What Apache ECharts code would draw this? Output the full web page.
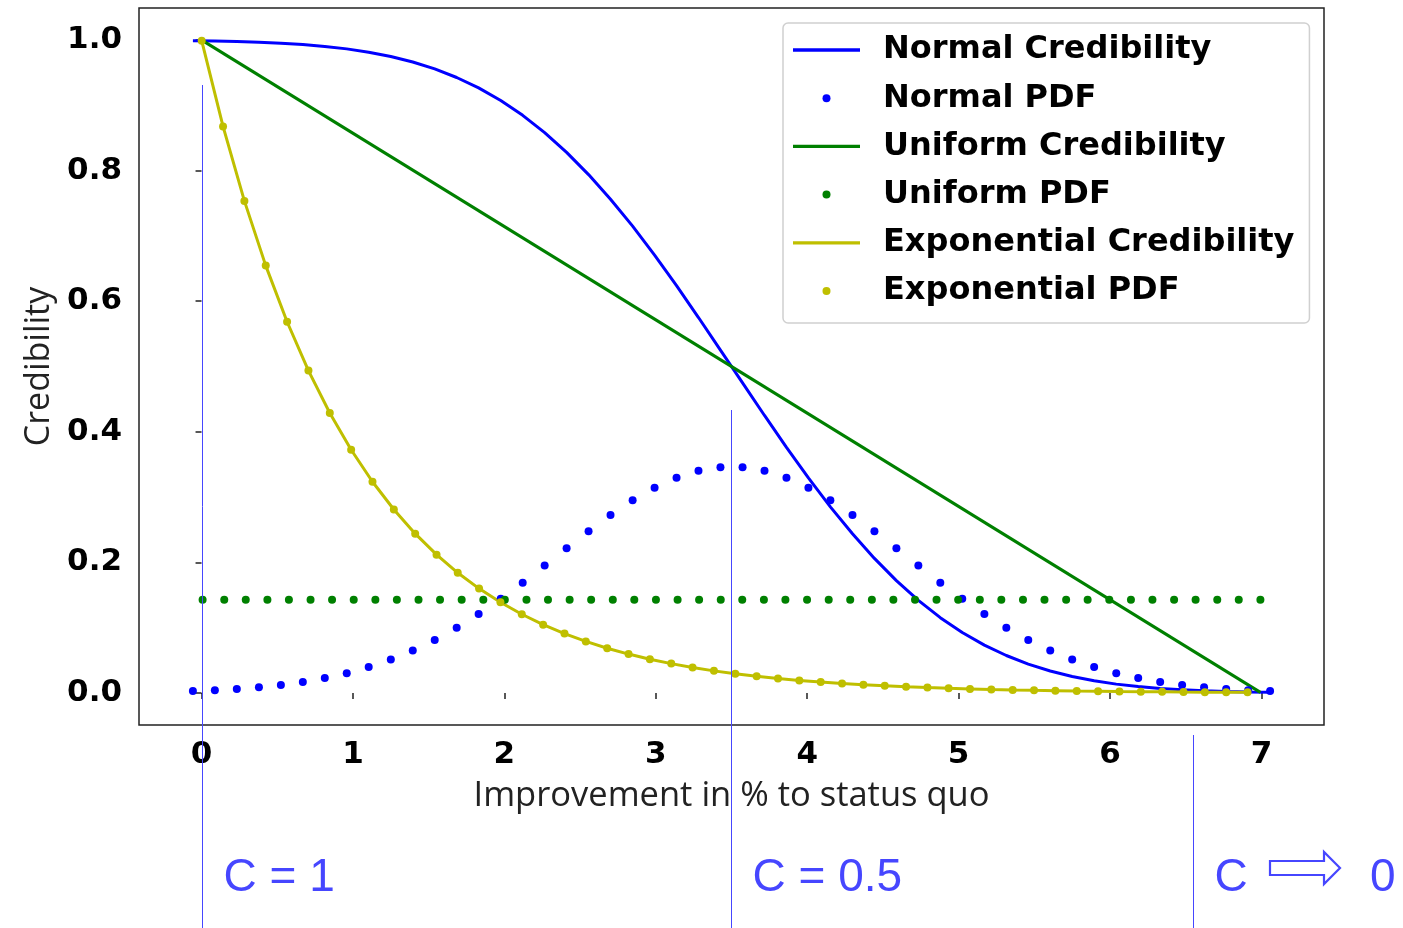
<!DOCTYPE html>
<html>
<head>
<meta charset="utf-8">
<script src="https://cdn.jsdelivr.net/npm/echarts@6/dist/echarts.min.js"></script>
<style>html,body{margin:0;padding:0;background:#fff}#c{width:1403px;height:928px}</style>
</head>
<body>
<div id="c"></div>
<script>
// ---- data ----
const normX = [-0.057,0.088,0.233,0.379,0.524,0.669,0.814,0.959,1.104,1.250,1.395,1.540,1.685,1.830,1.976,2.121,2.266,2.411,2.556,2.701,2.847,2.992,3.137,3.282,3.427,3.573,3.718,3.863,4.008,4.153,4.299,4.444,4.589,4.734,4.879,5.024,5.170,5.315,5.460,5.605,5.750,5.895,6.041,6.186,6.331,6.476,6.621,6.767,6.912,7.057];
const normCred = [0.9990,0.9985,0.9977,0.9967,0.9951,0.9930,0.9902,0.9864,0.9813,0.9747,0.9663,0.9557,0.9426,0.9266,0.9073,0.8846,0.8582,0.8279,0.7939,0.7561,0.7149,0.6706,0.6237,0.5750,0.5251,0.4749,0.4250,0.3763,0.3294,0.2851,0.2439,0.2061,0.1721,0.1418,0.1154,0.0927,0.0734,0.0574,0.0443,0.0337,0.0253,0.0187,0.0136,0.0098,0.0070,0.0049,0.0033,0.0023,0.0015,0.0010];
const normPdf = [0.0029,0.0043,0.0062,0.0088,0.0123,0.0168,0.0228,0.0303,0.0397,0.0513,0.0651,0.0813,0.1000,0.1210,0.1442,0.1690,0.1951,0.2215,0.2476,0.2725,0.2950,0.3144,0.3298,0.3405,0.3459,0.3459,0.3405,0.3298,0.3144,0.2950,0.2725,0.2476,0.2215,0.1951,0.1690,0.1442,0.1210,0.1000,0.0813,0.0651,0.0513,0.0397,0.0303,0.0228,0.0168,0.0123,0.0088,0.0062,0.0043,0.0029];
const unifX = [0.007,0.150,0.292,0.435,0.577,0.720,0.862,1.005,1.148,1.290,1.433,1.575,1.718,1.861,2.003,2.146,2.288,2.431,2.573,2.716,2.858,3.001,3.144,3.286,3.429,3.571,3.714,3.856,3.999,4.142,4.284,4.427,4.569,4.712,4.854,4.997,5.140,5.282,5.425,5.567,5.710,5.852,5.995,6.138,6.280,6.423,6.565,6.708,6.850,6.993];
const unifPdf = [0.1429,0.1429,0.1429,0.1429,0.1429,0.1429,0.1429,0.1429,0.1429,0.1429,0.1429,0.1429,0.1429,0.1429,0.1429,0.1429,0.1429,0.1429,0.1429,0.1429,0.1429,0.1429,0.1429,0.1429,0.1429,0.1429,0.1429,0.1429,0.1429,0.1429,0.1429,0.1429,0.1429,0.1429,0.1429,0.1429,0.1429,0.1429,0.1429,0.1429,0.1429,0.1429,0.1429,0.1429,0.1429,0.1429,0.1429,0.1429,0.1429,0.1429];
const unifCredX = [0.007, 6.993];
const unifCred = [0.999, 0.001];
const expX = [0.001,0.142,0.283,0.424,0.565,0.706,0.847,0.988,1.129,1.270,1.411,1.552,1.692,1.833,1.974,2.115,2.256,2.397,2.538,2.679,2.820,2.961,3.102,3.243,3.384,3.525,3.666,3.807,3.948,4.089,4.230,4.371,4.512,4.653,4.794,4.934,5.075,5.216,5.357,5.498,5.639,5.780,5.921,6.062,6.203,6.344,6.485,6.626,6.767,6.908];
const expCred = [0.9990,0.8677,0.7536,0.6545,0.5685,0.4937,0.4288,0.3725,0.3235,0.2810,0.2440,0.2119,0.1841,0.1599,0.1389,0.1206,0.1047,0.0910,0.0790,0.0686,0.0596,0.0518,0.0450,0.0390,0.0339,0.0295,0.0256,0.0222,0.0193,0.0168,0.0146,0.0126,0.0110,0.0095,0.0083,0.0072,0.0063,0.0054,0.0047,0.0041,0.0036,0.0031,0.0027,0.0023,0.0020,0.0018,0.0015,0.0013,0.0012,0.0010];
const expPdf = [0.9990,0.8677,0.7536,0.6545,0.5685,0.4937,0.4288,0.3725,0.3235,0.2810,0.2440,0.2119,0.1841,0.1599,0.1389,0.1206,0.1047,0.0910,0.0790,0.0686,0.0596,0.0518,0.0450,0.0390,0.0339,0.0295,0.0256,0.0222,0.0193,0.0168,0.0146,0.0126,0.0110,0.0095,0.0083,0.0072,0.0063,0.0054,0.0047,0.0041,0.0036,0.0031,0.0027,0.0023,0.0020,0.0018,0.0015,0.0013,0.0012,0.0010];
const xTicks = [0,1,2,3,4,5,6,7];
const yTicks = [0,0.2,0.4,0.6,0.8,1.0];
const seriesNames = ['Normal Credibility','Normal PDF','Uniform Credibility','Uniform PDF','Exponential Credibility','Exponential PDF'];
const annotX = [0, 3.5, 6.55];
const annotLabels = ['C = 1', 'C = 0.5', 'C'];

// ---- chart ----
const BLUE = '#0000ff', GREEN = '#008000', YEL = '#bfbf00';
const zip = (a, b) => a.map((v, i) => [v, b[i]]);
const chart = echarts.init(document.getElementById('c'), null, {renderer: 'canvas'});

function lineSeries(name, xs, ys, color) {
  return {name, type: 'line', data: zip(xs, ys), symbol: 'none', showSymbol: false,
    lineStyle: {color, width: 3}, itemStyle: {color}, z: 2, animation: false};
}
function dotSeries(name, xs, ys, color) {
  return {name, type: 'scatter', data: zip(xs, ys), symbol: 'circle', symbolSize: 8,
    itemStyle: {color, opacity: 1}, z: 3, animation: false};
}
const LINE_ICON = 'path://M0,0H100V5H0Z';
const legendData = seriesNames.map((n, i) => i % 2 === 0 ? {name: n, icon: LINE_ICON} : {name: n, icon: 'circle'});

const option = {
  animation: false,
  backgroundColor: '#fff',
  grid: {left: 139, right: 79, top: 8, bottom: 203, show: true, borderColor: '#222', borderWidth: 1.5, backgroundColor: 'transparent'},
  xAxis: {
    type: 'value', min: -0.413, max: 7.413,
    axisLine: {show: false},
    splitLine: {show: false},
    axisTick: {show: true, customValues: xTicks, length: 6, inside: false, lineStyle: {color: '#222', width: 1.5}},
    axisLabel: {customValues: xTicks, formatter: v => String(Math.round(v)), color: '#000',
      fontFamily: 'DejaVu Sans', fontWeight: 'bold', fontSize: 31, margin: 14},
    name: 'Improvement in % to status quo', nameLocation: 'middle', nameGap: 54,
    nameTextStyle: {fontFamily: 'Open Sans', fontSize: 34.5, color: '#222'}
  },
  yAxis: {
    type: 'value', min: -0.049, max: 1.049,
    axisLine: {show: false},
    splitLine: {show: false},
    axisTick: {show: true, customValues: yTicks, length: 6, inside: false, lineStyle: {color: '#222', width: 1.5}},
    axisLabel: {customValues: yTicks, formatter: v => v.toFixed(1), color: '#000',
      fontFamily: 'DejaVu Sans', fontWeight: 'bold', fontSize: 31, margin: 17},
    name: 'Credibility', nameLocation: 'middle', nameGap: 82, nameRotate: 90,
    nameTextStyle: {fontFamily: 'Open Sans', fontSize: 34, color: '#222'}
  },
  legend: {
    orient: 'vertical', left: 783, top: 23,
    data: legendData,
    itemWidth: 67, itemHeight: 8, itemGap: 16.2,
    padding: [11, 15, 16, 10],
    backgroundColor: 'rgba(255,255,255,0.85)', borderColor: '#d0d0d0', borderWidth: 1.5, borderRadius: 5,
    textStyle: {fontFamily: 'DejaVu Sans', fontWeight: 'bold', fontSize: 32, color: '#000', lineHeight: 32, padding: [0, 0, 0, 18]},
    selectedMode: false
  },
  series: [
    lineSeries(seriesNames[0], normX, normCred, BLUE),
    dotSeries(seriesNames[1], normX, normPdf, BLUE),
    lineSeries(seriesNames[2], unifCredX, unifCred, GREEN),
    dotSeries(seriesNames[3], unifX, unifPdf, GREEN),
    lineSeries(seriesNames[4], expX, expCred, YEL),
    dotSeries(seriesNames[5], expX, expPdf, YEL)
  ]
};
chart.setOption(option);

// ---- annotations below the axes ----
const AC = '#4646ff';
const FONT = '46px "Liberation Sans", Arial, sans-serif';
const px = annotX.map(v => chart.convertToPixel({xAxisIndex: 0}, v));
const lineTops = [85, 410, 735];
const g = [];
px.forEach((x, i) => {
  const xx = Math.round(x) + 0.5;
  g.push({type: 'line', shape: {x1: xx, y1: lineTops[i], x2: xx, y2: 928}, style: {stroke: AC, lineWidth: 1}, z: 10});
  g.push({type: 'text', x: xx + 21, y: 878, style: {text: annotLabels[i], fill: AC, font: FONT, textVerticalAlign: 'middle'}, z: 10});
});
const ax = Math.round(px[2]) + 77, ay = 868;
g.push({type: 'polygon', shape: {points: [[ax, ay - 7], [ax + 54, ay - 7], [ax + 54, ay - 16], [ax + 70, ay], [ax + 54, ay + 16], [ax + 54, ay + 7], [ax, ay + 7]]},
  style: {fill: 'none', stroke: AC, lineWidth: 2.2}, z: 10});
g.push({type: 'text', x: Math.round(px[2]) + 177, y: 878, style: {text: '0', fill: AC, font: FONT, textVerticalAlign: 'middle'}, z: 10});
chart.setOption({graphic: g});
</script>
</body>
</html>
